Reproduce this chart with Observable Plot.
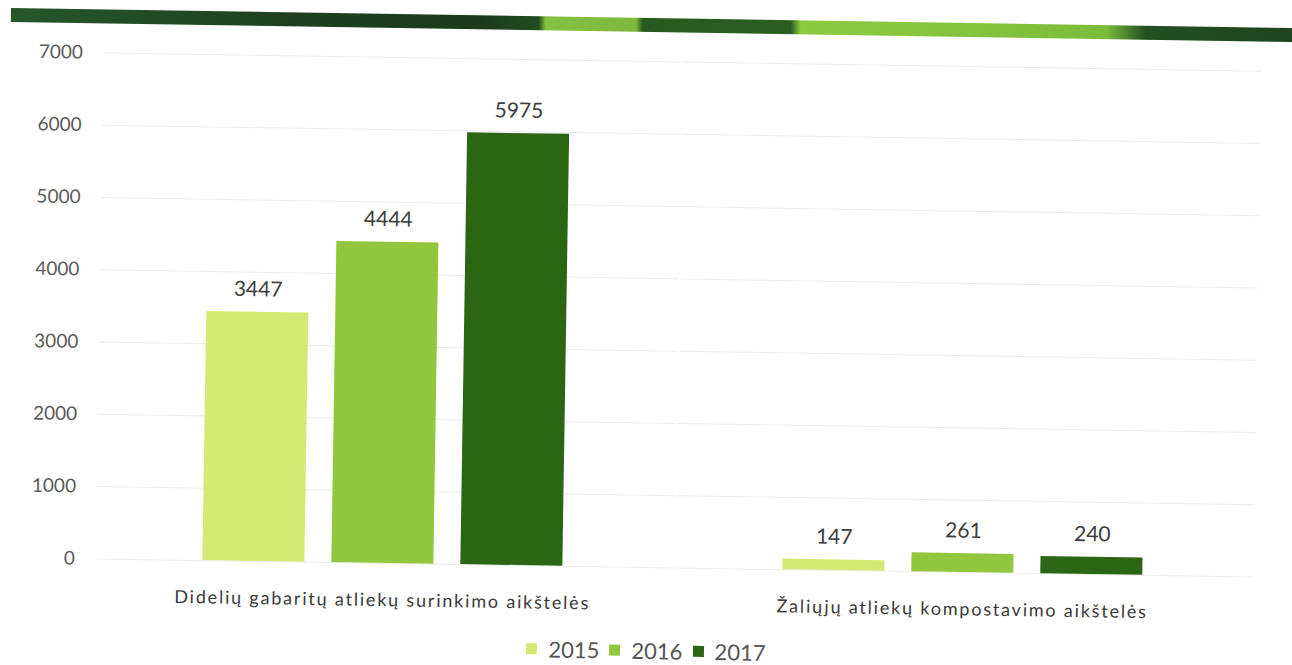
<!DOCTYPE html>
<html>
<head>
<meta charset="utf-8">
<script src="https://cdn.jsdelivr.net/npm/d3@7"></script>
<script src="https://cdn.jsdelivr.net/npm/@observablehq/plot@0.6"></script>
<style>
  html, body { margin: 0; padding: 0; background: #fff; overflow: hidden; }
  #page { position: relative; width: 1292px; height: 665px; transform: rotate(0.9deg); transform-origin: 646px 332px; font-family: Lato, "Open Sans", sans-serif; }
  #band { position: absolute; left: 6px; top: 18px; width: 1282px; height: 14px;
    background: linear-gradient(90deg, #27572a 0px, #1e3f1f 290px, #1b3a1c 470px, #234d22 528px, #86c040 535px, #7fb83d 625px, #285a1f 632px, #2a5e20 780px, #8ccb40 790px, #7cbc3a 1095px, #244f22 1135px, #1f4520 1282px); }
  #chart { position: absolute; left: 0; top: 0; }
  #legend { position: absolute; left: 10px; top: 634px; width: 1292px; display: flex; justify-content: center; }
  #chart g[aria-label="fx-axis tick label"] text { letter-spacing: 1.8px; }
  #legend span { margin-right: 10px !important; }
</style>
</head>
<body>
<div id="page">
  <div id="band"></div>
  <div id="chart"></div>
  <div id="legend"></div>
</div>
<script>
const categories = ["Didelių gabaritų atliekų surinkimo aikštelės", "Žaliųjų atliekų kompostavimo aikštelės"];
const years = ["2015", "2016", "2017"];
const values2015 = [3447, 147];
const values2016 = [4444, 261];
const values2017 = [5975, 240];
const yTicks = [0, 1000, 2000, 3000, 4000, 5000, 6000, 7000];
const yearColors = ["#d5ea74", "#92c73d", "#2b6615"];

const series = [values2015, values2016, values2017];
const data = [];
categories.forEach((c, i) => years.forEach((y, j) => data.push({category: c, year: y, value: series[j][i]})));

const plot = Plot.plot({
  width: 1292,
  height: 630,
  marginTop: 61,
  marginBottom: 63,
  marginLeft: 95,
  marginRight: 36,
  style: {fontFamily: "Lato, 'Open Sans', sans-serif", background: "transparent"},
  fx: {domain: categories, padding: 0.1, paddingOuter: 0.05, label: null},
  x: {domain: years, padding: 0.21, paddingOuter: 0.62, axis: null},
  y: {domain: [0, 7000], ticks: yTicks, label: null, grid: false},
  color: {domain: years, range: yearColors},
  marks: [
    Plot.ruleY(yTicks, {stroke: "#ececec", strokeWidth: 1, insetLeft: -26, insetRight: -30}),
    Plot.axisY(yTicks, {tickSize: 0, tickPadding: 47, fontSize: 19, fill: "#5a5a5a", tickFormat: d => String(d)}),
    Plot.axisFx({anchor: "bottom", tickSize: 0, tickPadding: 30, fontSize: 18, fill: "#3a3a3a", label: null}),
    Plot.barY(data, {fx: "category", x: "year", y: "value", fill: "year"}),
    Plot.text(data, {fx: "category", x: "year", y: "value", text: d => String(d.value), dy: -16, lineAnchor: "bottom", fontSize: 21, fill: "#3c3c3c"})
  ]
});
document.getElementById("chart").appendChild(plot);

const legend = plot.legend("color", {swatchSize: 11, swatchWidth: 11, swatchHeight: 11, style: {fontSize: "22px", color: "#555", fontFamily: "Lato, 'Open Sans', sans-serif", background: "transparent"}});
document.getElementById("legend").appendChild(legend);
</script>
</body>
</html>
